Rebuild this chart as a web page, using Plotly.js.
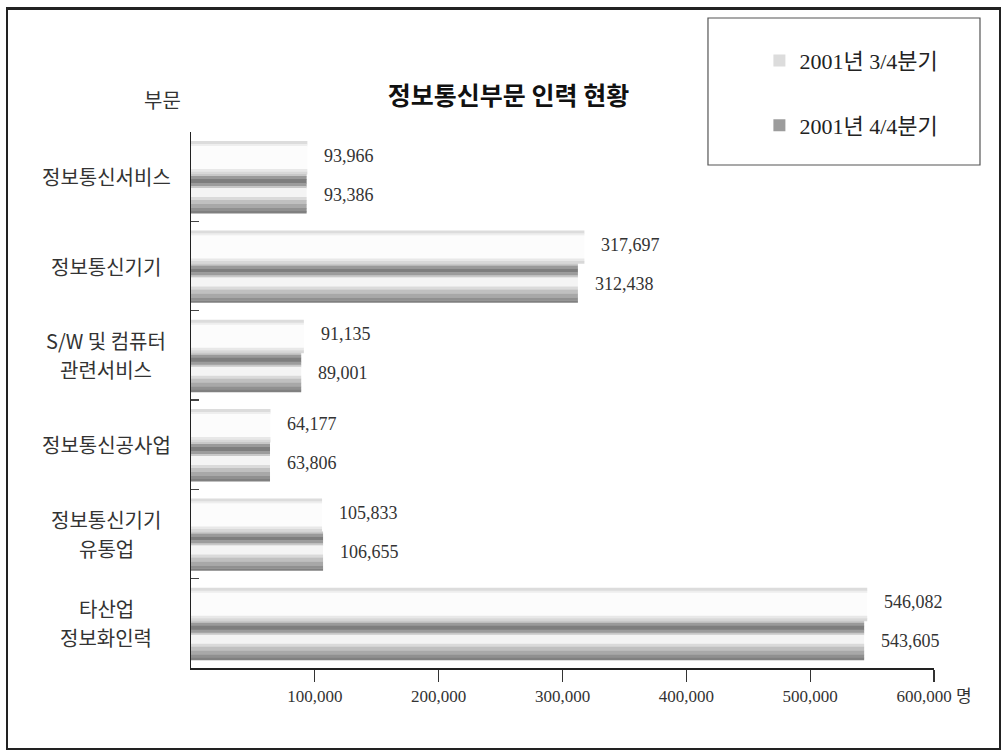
<!DOCTYPE html>
<html>
<head>
<meta charset="utf-8">
<script src="https://cdn.plot.ly/plotly-3.0.1.min.js"></script>
<style>
  html, body { margin: 0; padding: 0; background: #fff; }
  #chart { width: 1007px; height: 755px; }
  #frame { position: absolute; left: 6px; top: 7px; width: 995px; height: 743px;
           box-sizing: border-box; border: 2px solid #222; border-top-width: 3px; pointer-events: none; }
</style>
</head>
<body>
<div id="chart"></div>
<div id="frame"></div>
<script>
// ---- data ----
const categories = ['정보통신서비스', '정보통신기기', 'S/W 및 컴퓨터<br>관련서비스', '정보통신공사업', '정보통신기기<br>유통업', '타산업<br>정보화인력'];
const q3Name = '2001년 3/4분기';
const q4Name = '2001년 4/4분기';
const q3Values = [93966, 317697, 91135, 64177, 105833, 546082];
const q4Values = [93386, 312438, 89001, 63806, 106655, 543605];
const xTickVals = [100000, 200000, 300000, 400000, 500000, 600000];
const xTickText = ['100,000', '200,000', '300,000', '400,000', '500,000', '600,000 명'];

// ---- styling (strips emulate the cylinder shading; px relative to category centre) ----
const PX = 1 / 89.3;
const lightStrips = [
  [-35.6, -32.6, '#dcdcdc', true],
  [-32.6, -30.6, '#eeeeee', false],
  [-30.6, -7.6, '#fcfcfc', false],
  [-7.6, -5.0, '#e8e8e8', false],
  [-5.0, -2.6, '#d8d8d8', false]
];
const darkStrips = [
  [-2.6, -0.6, '#c8c8c8', false],
  [-0.6, 2.4, '#9a9a9a', false],
  [2.4, 6.4, '#7e7e7e', false],
  [6.4, 9.4, '#9c9c9c', true],
  [9.4, 11.4, '#c8c8c8', false],
  [11.4, 20.4, '#f4f4f4', false],
  [20.4, 23.4, '#dadada', false],
  [23.4, 27.4, '#c0c0c0', false],
  [27.4, 31.4, '#a8a8a8', false],
  [31.4, 34.4, '#909090', false],
  [34.4, 36.4, '#808080', false]
];

const serif = "'Liberation Serif', 'DejaVu Serif', 'Noto Sans CJK KR', serif";
const korean = "'Noto Sans CJK KR', sans-serif";

function stripTraces(values, strips, name, group, rank) {
  return strips.map(s => ({
    type: 'bar',
    orientation: 'h',
    x: values,
    y: categories,
    name: name,
    legendgroup: group,
    legendrank: rank,
    showlegend: s[3],
    offset: s[0] * PX,
    width: (s[1] - s[0] + 0.4) * PX,
    marker: { color: s[2], line: { width: 0 } },
    hoverinfo: 'skip'
  }));
}

const traces = [
  ...stripTraces(q3Values, lightStrips, q3Name, 'q3', 1),
  ...stripTraces(q4Values, darkStrips, q4Name, 'q4', 2)
];

const fmt = v => v.toLocaleString('en-US');
const annotations = [];
const LINE_GAP = 29;
categories.forEach((c, i) => {
  annotations.push({ x: q3Values[i], y: c, xref: 'x', yref: 'y', text: fmt(q3Values[i]),
    showarrow: false, xanchor: 'left', yanchor: 'middle', xshift: 15, yshift: 21,
    font: { family: serif, size: 18, color: '#333' } });
  annotations.push({ x: q4Values[i], y: c, xref: 'x', yref: 'y', text: fmt(q4Values[i]),
    showarrow: false, xanchor: 'left', yanchor: 'middle', xshift: 15, yshift: -18,
    font: { family: serif, size: 18, color: '#333' } });
  const lines = c.split('<br>');
  lines.forEach((ln, k) => {
    annotations.push({ x: -0.114, y: c, xref: 'paper', yref: 'y', text: ln,
      showarrow: false, xanchor: 'center', yanchor: 'middle', align: 'center',
      yshift: ((lines.length - 1) / 2 - k) * LINE_GAP,
      font: { family: korean, size: 20, color: '#333' } });
  });
});
annotations.push({ x: -0.039, y: 1.06, xref: 'paper', yref: 'paper', text: '부문',
  showarrow: false, xanchor: 'center', yanchor: 'middle',
  font: { family: korean, size: 20, color: '#333' } });

const layout = {
  width: 1007, height: 755,
  margin: { l: 191, r: 73, t: 132, b: 87 },
  paper_bgcolor: '#fff', plot_bgcolor: '#fff',
  barmode: 'overlay',
  title: { text: '<b>정보통신부문 인력 현황</b>', x: 0.505, xanchor: 'center', y: 0.872, yanchor: 'middle',
    font: { family: korean, size: 25, color: '#111' } },
  xaxis: {
    range: [0, 600000], tickvals: xTickVals, ticktext: xTickText,
    showgrid: false, zeroline: false, showline: true, linecolor: '#222', linewidth: 1.5,
    ticks: 'outside', ticklen: 12, tickwidth: 1.2, tickcolor: '#333',
    tickfont: { family: serif, size: 17, color: '#333' }, fixedrange: true
  },
  yaxis: {
    type: 'category', autorange: 'reversed',
    showgrid: false, zeroline: false, showline: true, linecolor: '#222', linewidth: 1.5,
    ticks: 'inside', tickson: 'boundaries', ticklen: 8, tickwidth: 1.2, tickcolor: '#444',
    showticklabels: false, fixedrange: true
  },
  showlegend: true,
  legend: {
    x: 0.765, xanchor: 'left', y: 1.172, yanchor: 'top',
    traceorder: 'grouped', tracegroupgap: 33,
    bgcolor: 'rgba(0,0,0,0)', borderwidth: 0,
    font: { family: serif, size: 22, color: '#222' }
  },
  shapes: [
    { type: 'rect', xref: 'paper', yref: 'paper', x0: 0.6958, x1: 1.0619, y0: 0.9384, y1: 1.2127,
      line: { color: '#555', width: 1.2 }, fillcolor: 'rgba(0,0,0,0)' }
  ],
  annotations: annotations
};

Plotly.newPlot('chart', traces, layout, { displayModeBar: false, staticPlot: true });
</script>
</body>
</html>
